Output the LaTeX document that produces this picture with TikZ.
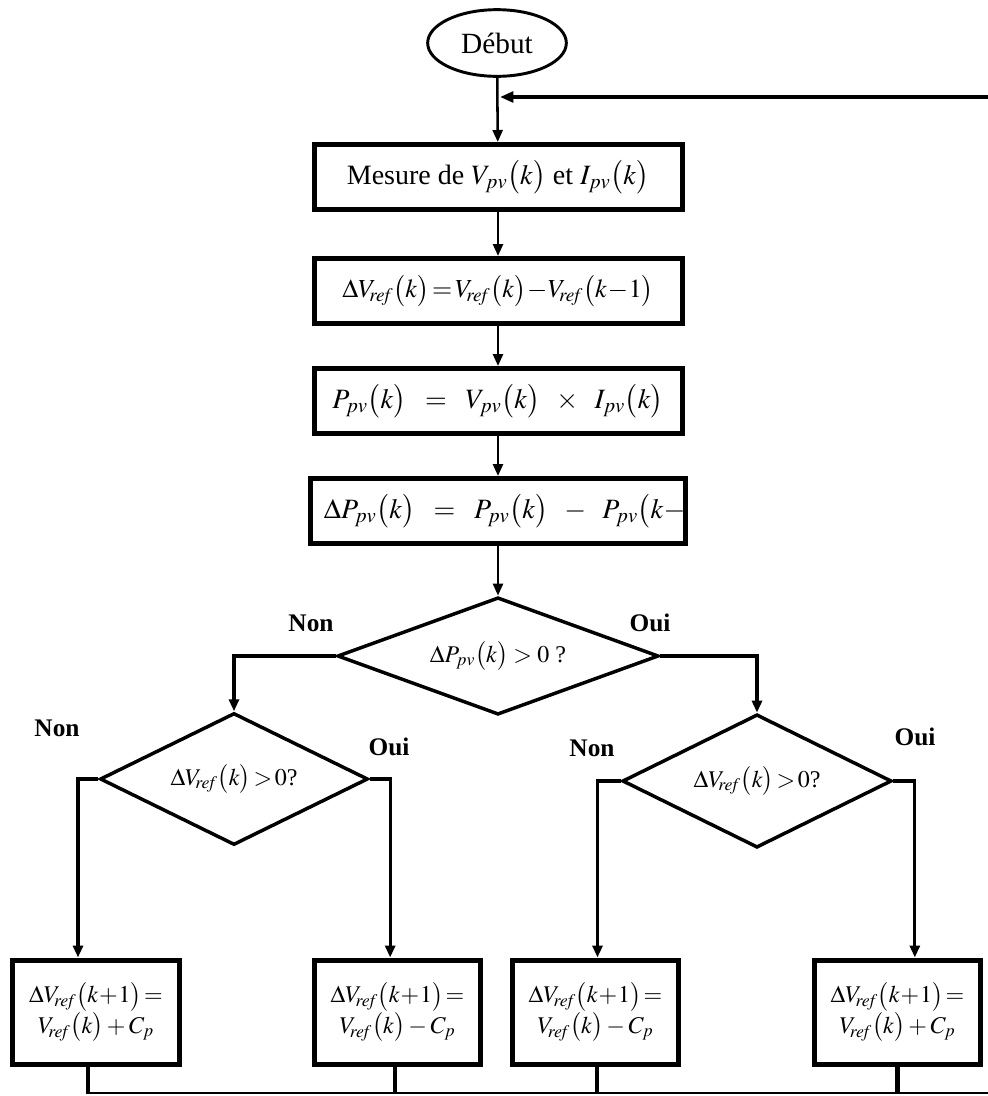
\documentclass[tikz,border=0pt]{standalone}
\usepackage{mathptmx}
\usepackage{fontspec}
\setmainfont{Liberation Serif}
\usetikzlibrary{shapes.geometric,arrows.meta}
\newcommand\bk[1]{\bigl(#1\bigr)}
\newcommand\rf{{\mathit{ref}}}
\begin{document}
\begin{tikzpicture}[x=0.75pt,y=-0.75pt,
  mainbox/.style={draw,line width=3.75pt,minimum width=276pt,minimum height=48.75pt,inner sep=0pt,font=\fontsize{21}{24}\selectfont},
  smallbox/.style={draw,line width=3.75pt,minimum width=125pt,minimum height=78pt,inner sep=0pt,align=center,font=\fontsize{18}{23}\selectfont},
  startnode/.style={draw,ellipse,line width=2.2pt,minimum width=104pt,minimum height=50pt,inner sep=0pt,font=\fontsize{22}{24}\selectfont},
  decision/.style={draw,diamond,line width=2.6pt,inner sep=0pt,font=\fontsize{18}{20}\selectfont},
  lab/.style={font=\fontsize{19}{21}\selectfont\bfseries},
  arr/.style={line width=1.9pt,-{Triangle[length=9pt,width=7.5pt]}},
  thickline/.style={line width=3.5pt},
  thinline/.style={line width=1.9pt}]
\useasboundingbox (0,0) rectangle (988,1096);

% top
\node[startnode] (debut) at (497,43) {Début};
\node[mainbox] (m1) at (498,177) {Mesure de $V_{pv}\bk{k}$ et $I_{pv}\bk{k}$};
\node[mainbox,font=\fontsize{19.5}{22}\selectfont] (m2) at (498,291) {$\Delta V_{\!\rf}\bk{k}\!=\!V_{\!\rf}\bk{k}\!-\!V_{\!\rf}\bk{k\!-\!1}$};
\node[mainbox] (m3) at (498,401) {$P_{pv}\bk{k}\;\;=\;\;V_{pv}\bk{k}\;\;\times\;\;I_{pv}\bk{k}$};
\node[mainbox] (m4) at (498,511) {\hspace*{10pt}$\Delta P_{pv}\bk{k}\;\;=\;\;P_{pv}\bk{k}\;\;-\;\;P_{pv}\bigl(k-$\hfill};

% decisions
\node[decision,minimum width=241pt,minimum height=88pt] (d1) at (498,656) {\makebox[0pt]{$\Delta P_{pv}\bk{k}>0$ ?}};
\node[decision,minimum width=201pt,minimum height=99pt] (d2) at (234,779) {\makebox[0pt]{$\Delta V_{\!\rf}\bk{k}\!>\!0$?}};
\node[decision,minimum width=202pt,minimum height=100pt] (d3) at (757,781) {\makebox[0pt]{$\Delta V_{\!\rf}\bk{k}\!>\!0$?}};

% labels
\node[lab] (n1) at (311,623) {Non};
\node[lab] (o1) at (650,623) {Oui};
\node[lab] (n2) at (57,728) {Non};
\node[lab] (o2) at (389,747) {Oui};
\node[lab] (n3) at (592,748) {Non};
\node[lab] (o3) at (915,737) {Oui};

% bottom boxes
\node[smallbox] (b5) at (96,1012) {$\Delta V_{\!\rf}\bk{k\!+\!1}\!=$\\$V_{\!\rf}\bk{k}+C_p$};
\node[smallbox] (b6) at (397.5,1012) {$\Delta V_{\!\rf}\bk{k\!+\!1}\!=$\\$V_{\!\rf}\bk{k}-C_p$};
\node[smallbox] (b7) at (595.5,1012) {$\Delta V_{\!\rf}\bk{k\!+\!1}\!=$\\$V_{\!\rf}\bk{k}-C_p$};
\node[smallbox] (b8) at (897.5,1012) {$\Delta V_{\!\rf}\bk{k\!+\!1}\!=$\\$V_{\!\rf}\bk{k}+C_p$};

% main chain
\draw[arr] (debut) -- (m1);
\draw[arr] (m1) -- (m2);
\draw[arr] (m2) -- (m3);
\draw[arr] (m3) -- (m4);
\draw[arr] (m4) -- (d1);

% loop back
\coordinate (loopR) at (988,97);
\coordinate (loopIn) at (500,97);
\draw[line width=2.6pt,-{Triangle[length=10pt,width=8pt]}] (loopR) -- (loopIn);

% first decision branches
\draw[arr,line width=2.4pt] (d1.west) -| (d2.north);
\draw[arr,line width=2.4pt] (d1.east) -| (d3.north);

% second level branches
\draw[arr,line width=2.4pt] (d2.west) -| ([xshift=-13.5pt]b5.north);
\draw[arr,line width=2.4pt] (d2.east) -| ([xshift=-5.5pt]b6.north);
\draw[arr,line width=2.4pt] (d3.west) -| ([xshift=1.5pt]b7.north);
\draw[arr,line width=2.4pt] (d3.east) -| ([xshift=13pt]b8.north);

% bottom collection line
\coordinate (botR) at (988,1093);
\coordinate (botL) at (88,1093);
\draw[thickline] ([xshift=-6pt]b5.south) -- ([xshift=-6pt]b5.south |- botL);
\draw[thickline] ([xshift=-2pt]b6.south) -- ([xshift=-2pt]b6.south |- botL);
\draw[thickline] ([xshift=1pt]b7.south) -- ([xshift=1pt]b7.south |- botL);
\draw[thickline] (b8.south) -- (b8.south |- botL);
\draw[thinline] ([xshift=-1.75pt]botL) -- (botR);
\end{tikzpicture}
\end{document}
